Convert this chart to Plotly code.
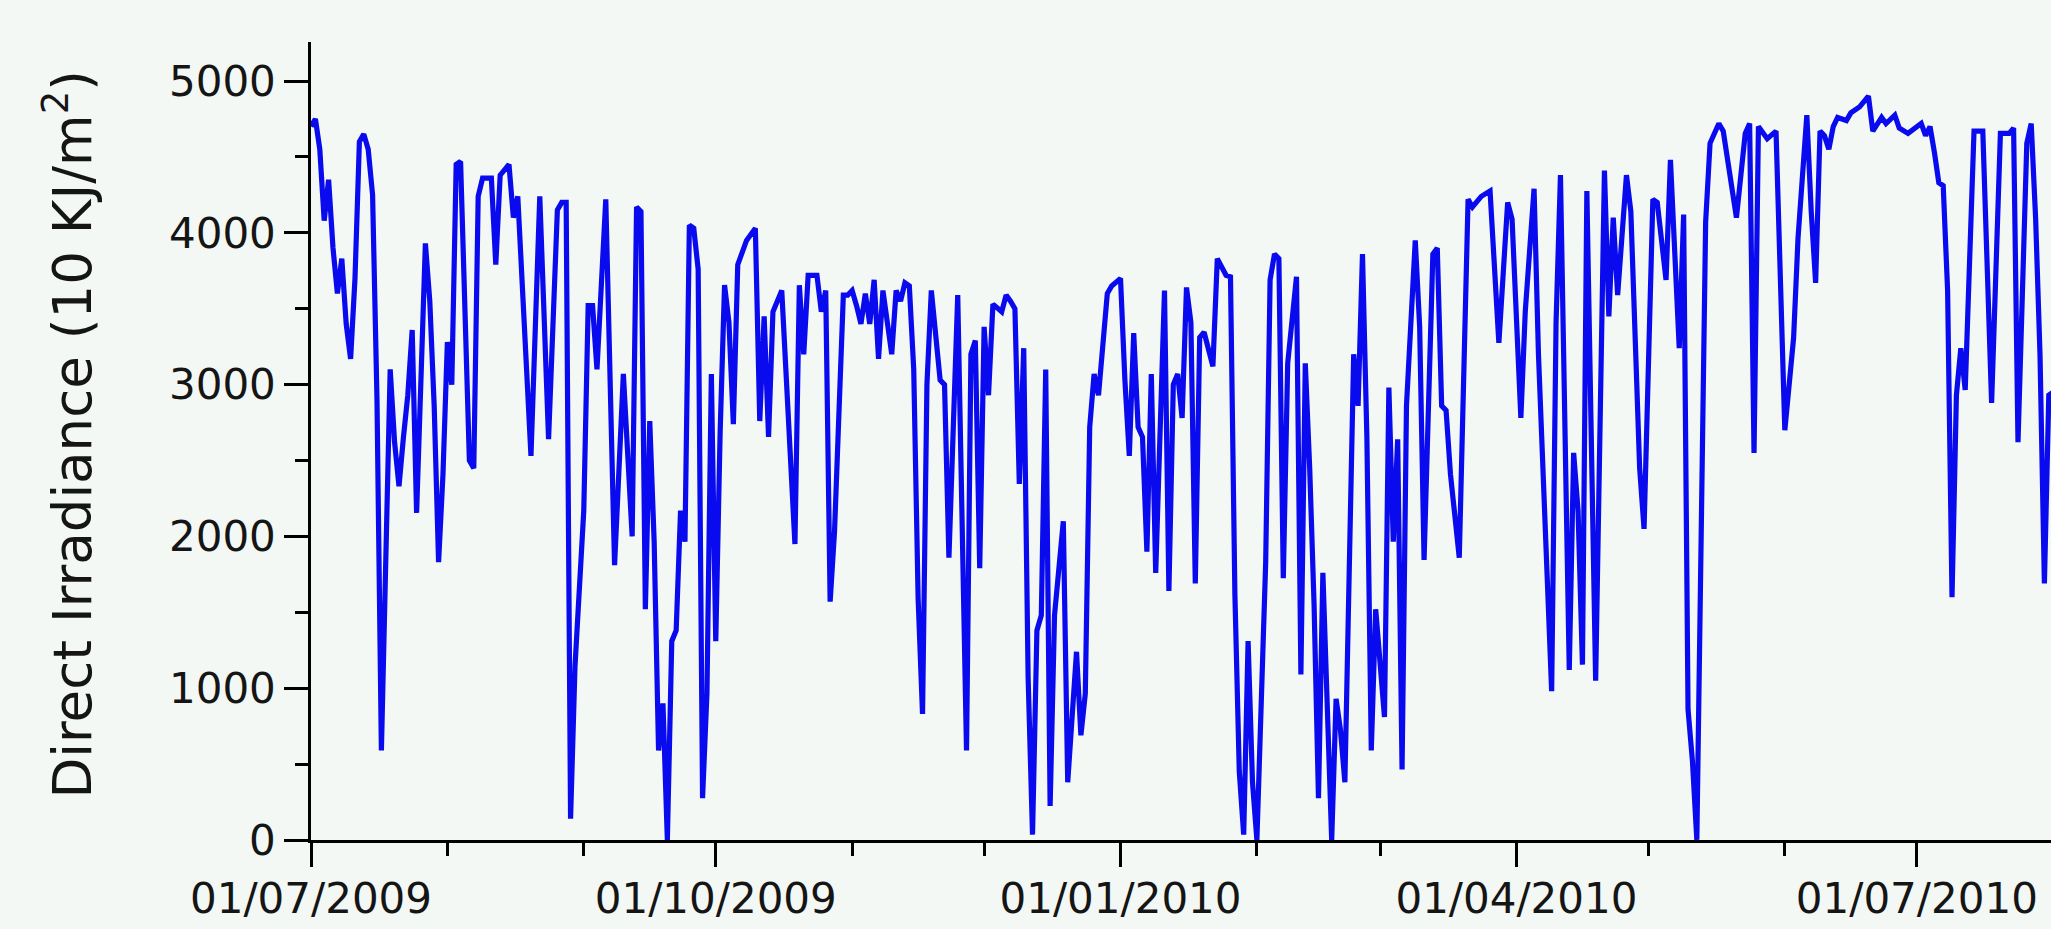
import pandas as pd
import plotly.graph_objects as go

start_date = "2009-07-01"
day_offset = [
    0, 1, 2, 3, 4, 5, 6, 7, 8, 9, 10, 11, 12, 13, 14, 15, 16, 17, 18, 19, 20, 21, 22, 23, 24,
    26, 27, 28, 29, 30, 31, 32, 33, 34, 35, 36, 37, 38, 39, 41, 42, 43, 45, 46, 47, 50, 52, 54,
    56, 57, 58, 59, 60, 62, 63, 64, 65, 67, 69, 71, 73, 74, 75, 76, 77, 78, 79, 80, 81, 82, 83,
    84, 85, 86, 87, 88, 89, 90, 91, 92, 93, 94, 95, 96, 97, 99, 101, 102, 103, 104, 105, 107,
    110, 111, 112, 113, 115, 116, 117, 118, 119, 121, 122, 123, 124, 125, 126, 127, 128, 129,
    130, 132, 133, 134, 135, 136, 137, 138, 139, 140, 141, 143, 144, 145, 147, 149, 150, 151,
    152, 153, 154, 155, 157, 158, 159, 160, 161, 162, 163, 164, 165, 166, 167, 168, 169, 171,
    172, 174, 175, 176, 177, 178, 179, 181, 182, 184, 185, 186, 187, 188, 189, 190, 191, 192,
    194, 195, 196, 197, 198, 199, 200, 201, 202, 203, 205, 206, 208, 209, 210, 211, 212, 213,
    214, 215, 217, 218, 219, 220, 221, 222, 224, 225, 226, 227, 228, 229, 230, 231, 232, 233,
    234, 235, 236, 237, 238, 239, 240, 241, 242, 243, 244, 245, 246, 247, 248, 249, 251, 252,
    253, 255, 256, 257, 258, 259, 261, 263, 264, 266, 268, 270, 272, 273, 275, 276, 278, 279,
    281, 282, 283, 284, 286, 287, 288, 289, 290, 291, 292, 294, 295, 296, 297, 299, 300, 302,
    303, 305, 306, 308, 309, 311, 312, 313, 314, 315, 316, 317, 318, 320, 321, 324, 326, 327,
    328, 329, 331, 333, 335, 337, 338, 340, 341, 342, 343, 344, 345, 346, 347, 349, 350, 352,
    354, 355, 357, 358, 360, 361, 363, 366, 367, 368, 369, 370, 371, 372, 373, 374, 375, 376,
    378, 379, 380, 382, 383, 384, 386, 387, 388, 390, 391, 392, 393, 394, 395, 396,
]
irradiance = [
    4700, 4750, 4550, 4080, 4350, 3900, 3600, 3830, 3400, 3170, 3700, 4600, 4650, 4550, 4250,
    2900, 590, 2000, 3100, 2620, 2330, 2650, 2930, 3360, 2155,
    3930, 3550, 2860, 1830, 2410, 3280, 3000, 4450, 4470, 3550, 2500, 2450, 4240, 4360, 4360,
    3790, 4380, 4450, 4100, 4240, 2530, 4240, 2640,
    4150, 4200, 4200, 140, 1140, 2170, 3520, 3520, 3100, 4220, 1810, 3070, 2000, 4170, 4140,
    1520, 2760, 1965, 590, 900, 0, 1310, 1380,
    2170, 1965, 4050, 4030, 3760, 275, 965, 3070, 1310, 2690, 3655, 3410, 2740, 3790, 3950,
    4030, 2760, 3450, 2655, 3480, 3620,
    1950, 3655, 3200, 3720, 3720, 3480, 3620, 1570, 2035, 3590, 3590, 3620, 3520, 3400, 3600,
    3400, 3690, 3170,
    3620, 3200, 3620, 3550, 3670, 3650, 3100, 1590, 830, 3000, 3620, 3030, 3000, 1860, 3590,
    590, 3200, 3290,
    1790, 3380, 2930, 3530, 3480, 3590, 3550, 3500, 2345, 3240, 1070, 35, 1380, 1480, 3100,
    225, 1480, 2100,
    380, 1240, 690, 965, 2720, 3070, 2930, 3600, 3650, 3700, 3030, 2530, 3340, 2720, 2655,
    1900, 3070, 1760,
    3620, 1640, 3000, 3070, 2780, 3640, 3410, 1690, 3310, 3345, 3120, 3830, 3720, 3710, 1620,
    450, 35, 1310,
    380, 0, 1830, 3690, 3860, 3830, 1725, 3140, 3710, 1090, 3140, 2450, 1550, 275, 1760, 900,
    0, 930,
    725, 380, 1620, 3200, 2860, 3860, 2655, 590, 1520, 1140, 810, 2980, 1965, 2640, 465, 2860,
    3950, 3380,
    1845, 3860, 3900, 2860, 2830, 2410, 1860, 4220, 4170, 4240, 4275, 3275, 4200, 4090, 2780,
    3480, 4290, 3200,
    1720, 980, 3410, 4380, 1120, 2550, 2170, 1155, 4275, 2520, 1050, 4410, 3450, 4100, 3590,
    4380, 4140, 2450,
    2050, 4220, 4200, 3690, 4480, 3240, 4120, 860, 520, 0, 1830, 4070, 4590, 4720, 4670, 4100,
    4655, 4720,
    2550, 4700, 4620, 4670, 2700, 3310, 3965, 4775, 4140, 3670, 4670, 4640, 4550, 4700, 4760,
    4740, 4790, 4830,
    4900, 4670, 4760, 4720, 4775, 4690, 4655, 4720, 4640, 4700, 4530, 4330, 4310, 3620, 1600,
    2930, 3240, 2965,
    4670, 4670, 4670, 2880, 3760, 4655, 4655, 4690, 2620, 4590, 4720, 4100, 3200, 1690, 2930,
    2950,
]

x_range = ["2009-07-01", "2010-07-31 12:00"]
y_range = [0, 5257]
y_title = "Direct Irradiance (10 KJ/m<sup>2</sup>)"

dates = pd.Timestamp(start_date) + pd.to_timedelta(day_offset, unit="D")

bg = "#f4f8f4"
font_family = "DejaVu Sans, Verdana, sans-serif"
text_color = "#151515"

fig = go.Figure()
fig.add_trace(go.Scatter(
    x=dates, y=irradiance, mode="lines",
    line=dict(color="#0a0aee", width=5.2),
    showlegend=False,
))

fig.update_layout(
    width=2051, height=929,
    margin=dict(l=311, r=0, t=42, b=89),
    paper_bgcolor=bg, plot_bgcolor=bg,
    font=dict(family=font_family, size=42, color=text_color),
)

fig.update_xaxes(
    type="date", range=x_range,
    tick0="2009-07-01", dtick="M3", tickformat="%d/%m/%Y",
    ticks="outside", ticklen=24, tickwidth=2.5, tickcolor="black",
    ticklabelstandoff=-4,
    minor=dict(dtick="M1", ticks="outside", ticklen=13, tickwidth=2.5, tickcolor="black"),
    showline=True, linecolor="black", linewidth=2.5,
    showgrid=False, zeroline=False,
    tickfont=dict(family=font_family, size=42, color=text_color),
)

fig.update_yaxes(
    range=y_range, tick0=0, dtick=1000,
    ticks="outside", ticklen=24, tickwidth=2.5, tickcolor="black",
    minor=dict(dtick=500, ticks="outside", ticklen=13, tickwidth=2.5, tickcolor="black"),
    showline=True, linecolor="black", linewidth=2.5,
    showgrid=False, zeroline=False,
    tickfont=dict(family=font_family, size=42, color=text_color),
)

fig.add_annotation(
    text=y_title, textangle=-90,
    xref="paper", yref="paper", x=-0.1397, y=0.508,
    xanchor="center", yanchor="middle", showarrow=False,
    font=dict(family=font_family, size=53, color=text_color),
)

post_js = (
    "document.documentElement.style.background='" + bg + "';"
    "document.body.style.margin='0';"
    "document.body.style.background='" + bg + "';"
    "document.body.style.overflow='hidden';"
)

fig.write_html("out.html", post_script=post_js, config={"displayModeBar": False})
